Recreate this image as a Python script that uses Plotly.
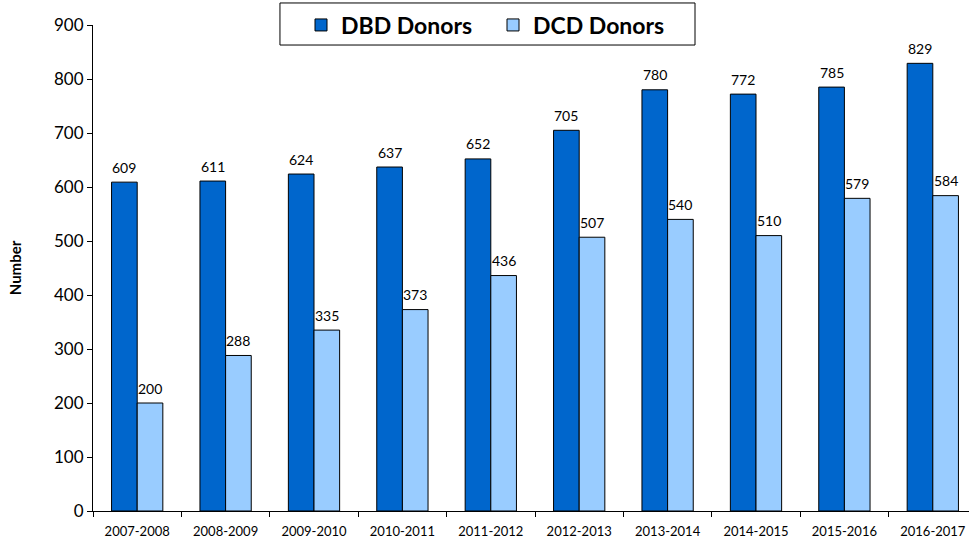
import plotly.graph_objects as go

years = ["2007-2008", "2008-2009", "2009-2010", "2010-2011", "2011-2012",
         "2012-2013", "2013-2014", "2014-2015", "2015-2016", "2016-2017"]
dbd = [609, 611, 624, 637, 652, 705, 780, 772, 785, 829]
dcd = [200, 288, 335, 373, 436, 507, 540, 510, 579, 584]

font = "Lato, 'Open Sans', sans-serif"

fig = go.Figure()
fig.add_trace(go.Bar(
    x=years, y=dbd, name="DBD Donors",
    marker_color="#0066CC", marker_line_color="#000000", marker_line_width=1,
))
fig.add_trace(go.Bar(
    x=years, y=dcd, name="DCD Donors",
    marker_color="#99CCFF", marker_line_color="#000000", marker_line_width=1,
))

# value labels above each bar
labels = []
for series, shift in ((dbd, -12.8), (dcd, 12.8)):
    for yr, v in zip(years, series):
        labels.append(dict(
            x=yr, y=v, text=str(v), showarrow=False,
            xshift=shift, yshift=15, yanchor="middle",
            font=dict(size=14, color="#000000"),
        ))

fig.update_layout(
    width=977, height=544,
    barmode="group", bargap=0.42, bargroupgap=0,
    margin=dict(l=93, r=0, t=25, b=33, autoexpand=False),
    paper_bgcolor="white", plot_bgcolor="white",
    font=dict(family=font, color="#000000"),
    showlegend=True,
    legend=dict(
        orientation="h", x=0.2353, y=1.0, xanchor="left", yanchor="middle",
        font=dict(size=23, family=font, weight="bold"),
        borderwidth=0, bgcolor="rgba(0,0,0,0)",
        entrywidth=147, itemwidth=30,
    ),
    shapes=[dict(
        type="rect", xref="paper", yref="paper",
        x0=0.2115, x1=0.681, y0=0.9588, y1=1.0453,
        line=dict(color="#000000", width=1), fillcolor="white", layer="below",
    )],
    annotations=labels,
    xaxis=dict(
        showline=True, linecolor="#000000", linewidth=1,
        ticks="outside", tickson="boundaries", ticklen=5, tickcolor="#000000",
        tickfont=dict(size=13), showgrid=False, ticklabelstandoff=8,
    ),
    yaxis=dict(
        range=[0, 900], dtick=100,
        showline=True, linecolor="#000000", linewidth=1,
        ticks="outside", ticklen=5, tickcolor="#000000",
        tickfont=dict(size=17), showgrid=False, zeroline=False,
        title=dict(text="<b>Number</b>", font=dict(size=15), standoff=28),
    ),
)

fig.write_html(
    "out.html",
    config={"displayModeBar": False},
    post_script="document.body.style.margin='0';document.body.style.overflow='hidden';",
)
